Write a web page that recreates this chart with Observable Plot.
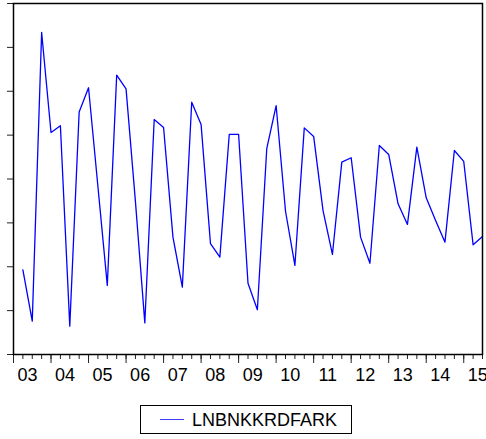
<!DOCTYPE html>
<html><head><meta charset="utf-8">
<script src="https://cdn.jsdelivr.net/npm/d3@7"></script>
<script src="https://cdn.jsdelivr.net/npm/@observablehq/plot@0.6"></script>
<style>
body{margin:0;background:#fff;font-family:"Liberation Sans",Arial,sans-serif}
#legend{position:relative;width:486px;height:49px}
#legend .box{position:absolute;left:140px;top:15px;width:212px;height:29px;border:1px solid #000;box-sizing:border-box}
#legend .ln{position:absolute;left:19px;top:13px;width:24px;height:0;border-top:1.5px solid #3c3cff}
#legend .tx{position:absolute;left:51px;top:4px;font-size:18px;line-height:20px;color:#000}
</style>
</head><body><div id="chart"></div>
<script>
const seriesName = "LNBNKKRDFARK";
const firstYear = 2003, firstQuarter = 2;
const values = [
 -0.0414, -0.0648, 0.0668, 0.0212, 0.0243, -0.0671, 0.0305, 0.0416, -0.0034, -0.0485,
  0.0473, 0.0411, -0.0103, -0.0656, 0.0271, 0.0235, -0.0265, -0.0493, 0.0350, 0.0248,
 -0.0295, -0.0356, 0.0203, 0.0203, -0.0475, -0.0596, 0.0138, 0.0334, -0.0147, -0.0394,
  0.0233, 0.0194, -0.0144, -0.0344, 0.0077, 0.0097, -0.0265, -0.0384, 0.0153, 0.0112,
 -0.0113, -0.0207, 0.0145, -0.0086, -0.0189, -0.0288, 0.0130, 0.0080, -0.0300, -0.0262
];
const yearLabels = ["03","04","05","06","07","08","09","10","11","12","13","14","15"];
const yTicks = [-0.08,-0.06,-0.04,-0.02,0,0.02,0.04,0.06,0.08];

const data = values.map((v, i) => {
  const k = (firstQuarter - 1) + i;
  return {t: firstYear + k / 4, v};
});
const xEnd = data[data.length - 1].t;
const quarterTicks = d3.range(0, Math.round((xEnd - firstYear) * 4) + 1).map(k => firstYear + k / 4);
const yearTicks = yearLabels.map((s, i) => firstYear + i);
const labelPos = yearLabels.map((s, i) => firstYear + i + 0.375);

const chart = Plot.plot({
  width: 486,
  height: 390,
  marginLeft: 13,
  marginRight: 4,
  marginTop: 3,
  marginBottom: 36,
  style: {fontFamily: '"Liberation Sans", Arial, sans-serif', fontSize: "18px", background: "#fff", color: "#000"},
  x: {domain: [firstYear, xEnd]},
  y: {domain: [yTicks[0], yTicks[yTicks.length - 1]]},
  marks: [
    Plot.axisY({ticks: yTicks, tickSize: 6, tickFormat: () => "", label: null, stroke: "#222"}),
    Plot.axisX({ticks: quarterTicks, tickSize: 5, tickFormat: () => "", label: null, stroke: "#222"}),
    Plot.axisX({ticks: yearTicks, tickSize: 9, tickFormat: () => "", label: null, stroke: "#222"}),
    Plot.axisX({ticks: labelPos, tickSize: 0, tickPadding: 14, label: null, fontSize: 18,
                tickFormat: d => yearLabels[Math.round(d - firstYear - 0.375)]}),
    Plot.line(data, {x: "t", y: "v", stroke: "#0000ff", strokeWidth: 1.3}),
    Plot.frame({stroke: "#000", strokeWidth: 1.5})
  ]
});
document.getElementById("chart").appendChild(chart);
const leg = document.createElement("div");
leg.id = "legend";
leg.innerHTML = `<div class="box"><div class="ln"></div><div class="tx">${seriesName}</div></div>`;
document.body.appendChild(leg);
</script>
</body></html>
